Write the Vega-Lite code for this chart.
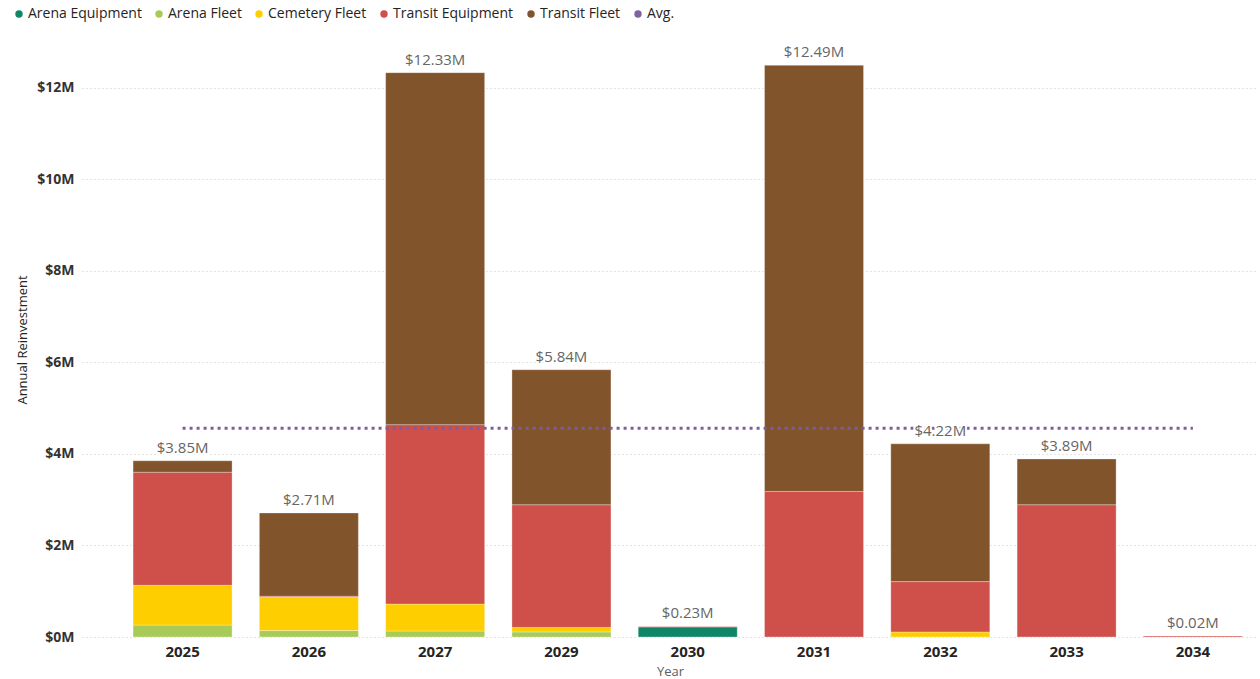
{
  "$schema": "https://vega.github.io/schema/vega-lite/v6.json",
  "width": 1176,
  "height": 595,
  "autosize": {"type": "none"},
  "padding": {"left": 82, "top": 42, "right": 2, "bottom": 42},
  "background": "white",
  "config": {
    "font": "Open Sans",
    "view": {"stroke": null}
  },
  "datasets": {
    "bars": [
      {"year": "2025", "category": "Arena Fleet", "value": 0.26},
      {"year": "2025", "category": "Cemetery Fleet", "value": 0.87},
      {"year": "2025", "category": "Transit Equipment", "value": 2.47},
      {"year": "2025", "category": "Transit Fleet", "value": 0.25},
      {"year": "2026", "category": "Arena Fleet", "value": 0.14},
      {"year": "2026", "category": "Cemetery Fleet", "value": 0.73},
      {"year": "2026", "category": "Transit Equipment", "value": 0.02},
      {"year": "2026", "category": "Transit Fleet", "value": 1.82},
      {"year": "2027", "category": "Arena Fleet", "value": 0.13},
      {"year": "2027", "category": "Cemetery Fleet", "value": 0.59},
      {"year": "2027", "category": "Transit Equipment", "value": 3.92},
      {"year": "2027", "category": "Transit Fleet", "value": 7.69},
      {"year": "2029", "category": "Arena Fleet", "value": 0.11},
      {"year": "2029", "category": "Cemetery Fleet", "value": 0.10},
      {"year": "2029", "category": "Transit Equipment", "value": 2.68},
      {"year": "2029", "category": "Transit Fleet", "value": 2.95},
      {"year": "2030", "category": "Arena Equipment", "value": 0.22},
      {"year": "2030", "category": "Transit Equipment", "value": 0.01},
      {"year": "2031", "category": "Transit Equipment", "value": 3.18},
      {"year": "2031", "category": "Transit Fleet", "value": 9.31},
      {"year": "2032", "category": "Cemetery Fleet", "value": 0.11},
      {"year": "2032", "category": "Transit Equipment", "value": 1.10},
      {"year": "2032", "category": "Transit Fleet", "value": 3.01},
      {"year": "2033", "category": "Transit Equipment", "value": 2.89},
      {"year": "2033", "category": "Transit Fleet", "value": 1.00},
      {"year": "2034", "category": "Transit Equipment", "value": 0.02}
    ],
    "avg": [
      {"from": "2025", "to": "2034", "avg": 4.56}
    ]
  },
  "layer": [
    {
      "data": {"name": "bars"},
      "mark": {"type": "bar", "stroke": "#ffffff", "strokeWidth": 0.5, "strokeOpacity": 0.6},
      "encoding": {
        "x": {
          "field": "year",
          "type": "ordinal",
          "scale": {"paddingInner": 0.216, "paddingOuter": 0.264, "align": 0.766},
          "axis": {
            "title": "Year",
            "titleFont": "Open Sans",
            "titleFontSize": 13,
            "titleFontWeight": "normal",
            "titleColor": "#605E5C",
            "titlePadding": 6,
            "labelAngle": 0,
            "labelFont": "Open Sans",
            "labelFontSize": 15,
            "labelFontWeight": "bold",
            "labelColor": "#252423",
            "labelPadding": 7,
            "domain": false,
            "ticks": false,
            "grid": false
          }
        },
        "y": {
          "field": "value",
          "type": "quantitative",
          "aggregate": "sum",
          "stack": "zero",
          "scale": {"domain": [0, 13], "nice": false},
          "axis": {
            "title": "Annual Reinvestment",
            "titleFont": "Open Sans",
            "titleFontSize": 13,
            "titleFontWeight": "normal",
            "titleColor": "#252423",
            "titlePadding": 7,
            "values": [0, 2, 4, 6, 8, 10, 12],
            "labelExpr": "'$' + datum.value + 'M'",
            "labelFont": "Open Sans",
            "labelFontSize": 14,
            "labelFontWeight": "bold",
            "labelColor": "#333333",
            "labelPadding": 8,
            "domain": false,
            "ticks": false,
            "grid": true,
            "gridColor": "#C8C8C8",
            "gridDash": [1, 3],
            "gridWidth": 1
          }
        },
        "fill": {
          "field": "category",
          "type": "nominal",
          "scale": {
            "domain": ["Arena Equipment", "Arena Fleet", "Cemetery Fleet", "Transit Equipment", "Transit Fleet", "Avg."],
            "range": ["#0E8766", "#A8CB58", "#FFCE00", "#CF4F4A", "#82542C", "#7E63A0"]
          },
          "legend": {
            "title": null,
            "orient": "none",
            "legendX": -70,
            "legendY": -35,
            "direction": "horizontal",
            "symbolType": "circle",
            "symbolSize": 55,
            "symbolStrokeWidth": 0,
            "labelFont": "Open Sans",
            "labelFontSize": 14,
            "labelColor": "#252423",
            "labelOffset": 2,
            "columnPadding": 10,
            "padding": 0
          }
        },
        "order": {"field": "category", "sort": "ascending"}
      }
    },
    {
      "data": {"name": "avg"},
      "mark": {"type": "rule", "color": "#7B5EA0", "strokeWidth": 3, "strokeDash": [3, 4]},
      "encoding": {
        "x": {"field": "from", "type": "ordinal"},
        "x2": {"field": "to"},
        "y": {"field": "avg", "type": "quantitative"}
      }
    },
    {
      "data": {"name": "bars"},
      "transform": [
        {"aggregate": [{"op": "sum", "field": "value", "as": "total"}], "groupby": ["year"]},
        {"calculate": "'$' + format(datum.total, '.2f') + 'M'", "as": "label"}
      ],
      "layer": [
        {
          "mark": {
            "type": "text",
            "baseline": "bottom",
            "dy": -5,
            "font": "Open Sans",
            "fontSize": 15,
            "fill": "white",
            "stroke": "white",
            "strokeWidth": 4,
            "strokeJoin": "round"
          },
          "encoding": {
            "x": {"field": "year", "type": "ordinal"},
            "y": {"field": "total", "type": "quantitative"},
            "text": {"field": "label", "type": "nominal"}
          }
        },
        {
          "mark": {
            "type": "text",
            "baseline": "bottom",
            "dy": -5,
            "font": "Open Sans",
            "fontSize": 15,
            "fill": "#666666"
          },
          "encoding": {
            "x": {"field": "year", "type": "ordinal"},
            "y": {"field": "total", "type": "quantitative"},
            "text": {"field": "label", "type": "nominal"}
          }
        }
      ]
    }
  ]
}
